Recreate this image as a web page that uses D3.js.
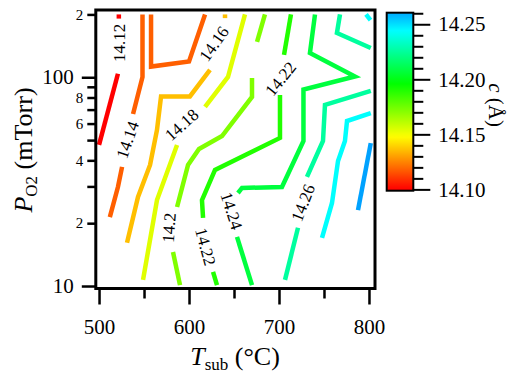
<!DOCTYPE html>
<html>
<head>
<meta charset="utf-8">
<script src="https://cdn.jsdelivr.net/npm/d3@7"></script>
<style>
  body { margin: 0; background: #fff; }
  svg { display: block; }
</style>
</head>
<body>
<div id="chart"></div>
<script>
// contour segments, points are [T_sub (°C), P_O2 (mTorr)]
const contour1412 = [
  [[522, 200], [522, 191]],
  [[521, 104], [500, 47.4]]
];
const contour1414 = [
  [[548.3, 200], [548.3, 100.3], [537.8, 66.7]],
  [[525.6, 37.2], [521, 29.8], [512, 21.4]],
  [[557.8, 200], [557.8, 112.5], [600, 119], [617.8, 200]]
];
const contour1416 = [
  [[640, 200], [640, 192]],
  [[623.3, 108.4], [601, 80.9], [568.9, 80.9], [564.4, 55.9], [556.7, 38], [543.3, 26.7], [531.1, 16.1]]
];
const contour1418 = [
  [[662.2, 200], [643.3, 100.3], [617.8, 72.1]],
  [[586.7, 47.4], [564.4, 25.8], [548.9, 10.7]]
];
const contour1420 = [
  [[684.4, 200], [675.6, 147.6]],
  [[670, 99.2], [670, 80.5], [636.7, 52.3], [611.1, 45.3], [598.9, 38], [586.7, 23.9]],
  [[582.2, 14.55], [590, 10.1]]
];
const contour1422 = [
  [[713.3, 200], [705.6, 127.9]],
  [[701.1, 82.3], [701.1, 51.2], [628.9, 36], [614.4, 25.8], [615.6, 21.2]],
  [[626.7, 11.7], [631.1, 10.1]]
];
const contour1424 = [
  [[740, 200], [734.4, 130.7], [784.4, 100.9], [727.2, 87.4], [727.2, 49.5], [703.3, 29.8], [658.9, 29.5], [654.4, 27.9]],
  [[653.3, 17.2], [670, 10.1]]
];
const contour1426 = [
  [[767.8, 200], [764.4, 163], [802, 138]],
  [[802, 86], [751.1, 73.7], [748.9, 49.5], [731.1, 33.3]],
  [[721.1, 19], [706.7, 10.7]]
];
const contour1428 = [
  [[796.7, 200], [801.7, 188]],
  [[802, 67.4], [775.6, 61.7], [773.3, 49.5], [765.6, 39.7], [758.9, 25], [747.8, 17]]
];
const contour1430 = [
  [[802, 48.4], [787.8, 23.1]]
];

const levels = [14.12, 14.14, 14.16, 14.18, 14.20, 14.22, 14.24, 14.26, 14.28, 14.30];
const contourSegments = [contour1412, contour1414, contour1416, contour1418, contour1420,
  contour1422, contour1424, contour1426, contour1428, contour1430];

// contour labels: text, position [T, P], rotation in degrees
const labelTexts = ['14.12', '14.14', '14.16', '14.18', '14.2', '14.22', '14.22', '14.24', '14.26'];
const labelPositions = [[523, 146], [532, 50.1], [628, 144.4], [592, 59.1], [578, 19],
  [702, 98.1], [618, 15.4], [647, 22.9], [727, 25]];
const labelAngles = [-90, -71, -55, -42, -86, -51, 75, 72, -69];

const xTicks = [500, 600, 700, 800];
const xMinorTicks = [550, 650, 750];
const yMajorTicks = [10, 100];
const yMinorTicks = [20, 30, 40, 50, 60, 70, 80, 90, 200];
const yMinorLabels = { 20: '2', 40: '4', 60: '6', 80: '8', 200: '2' };

const colorTicks = [14.10, 14.15, 14.20, 14.25];
const colorMinorTicks = [14.11, 14.12, 14.13, 14.14, 14.16, 14.17, 14.18, 14.19,
  14.21, 14.22, 14.23, 14.24, 14.26];
const colorRange = [14.0988, 14.2605];

const width = 524;
const height = 374;
const plot = { left: 95.8, right: 375, top: 10, bottom: 288.5 };
const bar = { left: 386.7, right: 413.3, top: 12.7, bottom: 190.7 };
const serif = '"Liberation Serif", "Times New Roman", serif';

const svg = d3
  .select('#chart')
  .append('svg')
  .attr('width', width)
  .attr('height', height)
  .attr('font-family', serif);

const x = d3.scaleLinear().domain([496.4, 806.7]).range([plot.left, plot.right]);
const y = d3.scaleLog().domain([9.73, 210]).range([plot.bottom, plot.top]);

// contour line colours (rainbow over the contour levels)
const lineHue = d3.scaleLinear().domain([14.12, 14.30]).range([0, 202]);
const lineColor = (level) => d3.hsl(lineHue(level), 1, 0.5).formatHex();

const line = d3
  .line()
  .x((d) => x(d[0]))
  .y((d) => y(d[1]));

const contourGroup = svg.append('g');
levels.forEach((level, i) => {
  contourGroup
    .append('g')
    .selectAll('path')
    .data(contourSegments[i])
    .join('path')
    .attr('d', line)
    .attr('fill', 'none')
    .attr('stroke', lineColor(level))
    .attr('stroke-width', 4.5)
    .attr('stroke-linecap', 'butt')
    .attr('stroke-linejoin', 'miter');
});

svg
  .append('g')
  .selectAll('text')
  .data(labelTexts)
  .join('text')
  .attr('transform', (d, i) => {
    const p = labelPositions[i];
    return `translate(${x(p[0])},${y(p[1])}) rotate(${labelAngles[i]})`;
  })
  .attr('text-anchor', 'middle')
  .attr('dominant-baseline', 'central')
  .attr('font-family', serif)
  .style('font-size', '17px')
  .text((d) => d);

// x axis
const xAxis = svg
  .append('g')
  .attr('transform', `translate(0,${plot.bottom})`)
  .call(d3.axisBottom(x).tickValues(xTicks).tickSize(16).tickPadding(15).tickFormat(d3.format('d')));
svg
  .append('g')
  .attr('transform', `translate(0,${plot.bottom})`)
  .call(d3.axisBottom(x).tickValues(xMinorTicks).tickSize(10).tickFormat(''));

// y axis
svg
  .append('g')
  .attr('transform', `translate(${plot.left},0)`)
  .call(d3.axisLeft(y).tickValues(yMajorTicks).tickSize(14).tickPadding(8).tickFormat(d3.format('d')));
const yMinor = svg
  .append('g')
  .attr('transform', `translate(${plot.left},0)`)
  .call(d3.axisLeft(y).tickValues(yMinorTicks).tickSize(8.5).tickPadding(4)
    .tickFormat((d) => yMinorLabels[d] || ''));

svg.selectAll('.domain').remove();
svg.selectAll('.tick line').attr('stroke', '#000').attr('stroke-width', 2.5);
svg.selectAll('.tick text').attr('fill', '#000').attr('font-family', serif).style('font-size', '21px');
yMinor.selectAll('text').style('font-size', '15px');

// frame
svg
  .append('rect')
  .attr('x', plot.left)
  .attr('y', plot.top)
  .attr('width', plot.right - plot.left)
  .attr('height', plot.bottom - plot.top)
  .attr('fill', 'none')
  .attr('stroke', '#000')
  .attr('stroke-width', 3);

// colour scale
const cy = d3.scaleLinear().domain(colorRange).range([bar.bottom, bar.top]);
const barHue = d3.scaleLinear().domain([14.10, 14.26]).range([0, 200]).clamp(true);
const grad = svg
  .append('defs')
  .append('linearGradient')
  .attr('id', 'cbar')
  .attr('x1', 0).attr('y1', 1).attr('x2', 0).attr('y2', 0);
grad
  .selectAll('stop')
  .data(d3.range(0, 1.0001, 0.02))
  .join('stop')
  .attr('offset', (t) => t)
  .attr('stop-color', (t) => d3.hsl(barHue(colorRange[0] + t * (colorRange[1] - colorRange[0])), 1, 0.5).formatHex());

svg
  .append('rect')
  .attr('x', bar.left)
  .attr('y', bar.top)
  .attr('width', bar.right - bar.left)
  .attr('height', bar.bottom - bar.top)
  .attr('fill', 'url(#cbar)')
  .attr('stroke', '#000')
  .attr('stroke-width', 2);

const cAxis = svg
  .append('g')
  .attr('transform', `translate(${bar.right},0)`)
  .call(d3.axisRight(cy).tickValues(colorTicks).tickSize(17).tickPadding(8).tickFormat(d3.format('.2f')));
const cMinor = svg
  .append('g')
  .attr('transform', `translate(${bar.right},0)`)
  .call(d3.axisRight(cy).tickValues(colorMinorTicks).tickSize(10).tickFormat(''));
[cAxis, cMinor].forEach((g) => {
  g.select('.domain').remove();
  g.selectAll('.tick line').attr('stroke', '#000').attr('stroke-width', 2);
});
cAxis.selectAll('text').attr('fill', '#000').attr('font-family', serif).style('font-size', '21px');

// axis titles
const yTitle = svg
  .append('text')
  .attr('transform', 'translate(32,150) rotate(-90)')
  .attr('text-anchor', 'middle')
  .style('font-size', '26px');
yTitle.append('tspan').style('font-style', 'italic').text('P');
yTitle.append('tspan').attr('dy', 5).style('font-size', '17px').text('O2');
yTitle.append('tspan').attr('dy', -5).text(' (mTorr)');

const xTitle = svg
  .append('text')
  .attr('x', 235)
  .attr('y', 365)
  .attr('text-anchor', 'middle')
  .style('font-size', '26px');
xTitle.append('tspan').style('font-style', 'italic').text('T');
xTitle.append('tspan').attr('dy', 5).style('font-size', '17px').text('sub');
xTitle.append('tspan').attr('dy', -5).text(' (°C)');

const cTitle = svg
  .append('text')
  .attr('transform', 'translate(489,105) rotate(90)')
  .attr('text-anchor', 'middle')
  .style('font-size', '21px');
cTitle.append('tspan').style('font-style', 'italic').text('c');
cTitle.append('tspan').text(' (Å)');
</script>
</body>
</html>
